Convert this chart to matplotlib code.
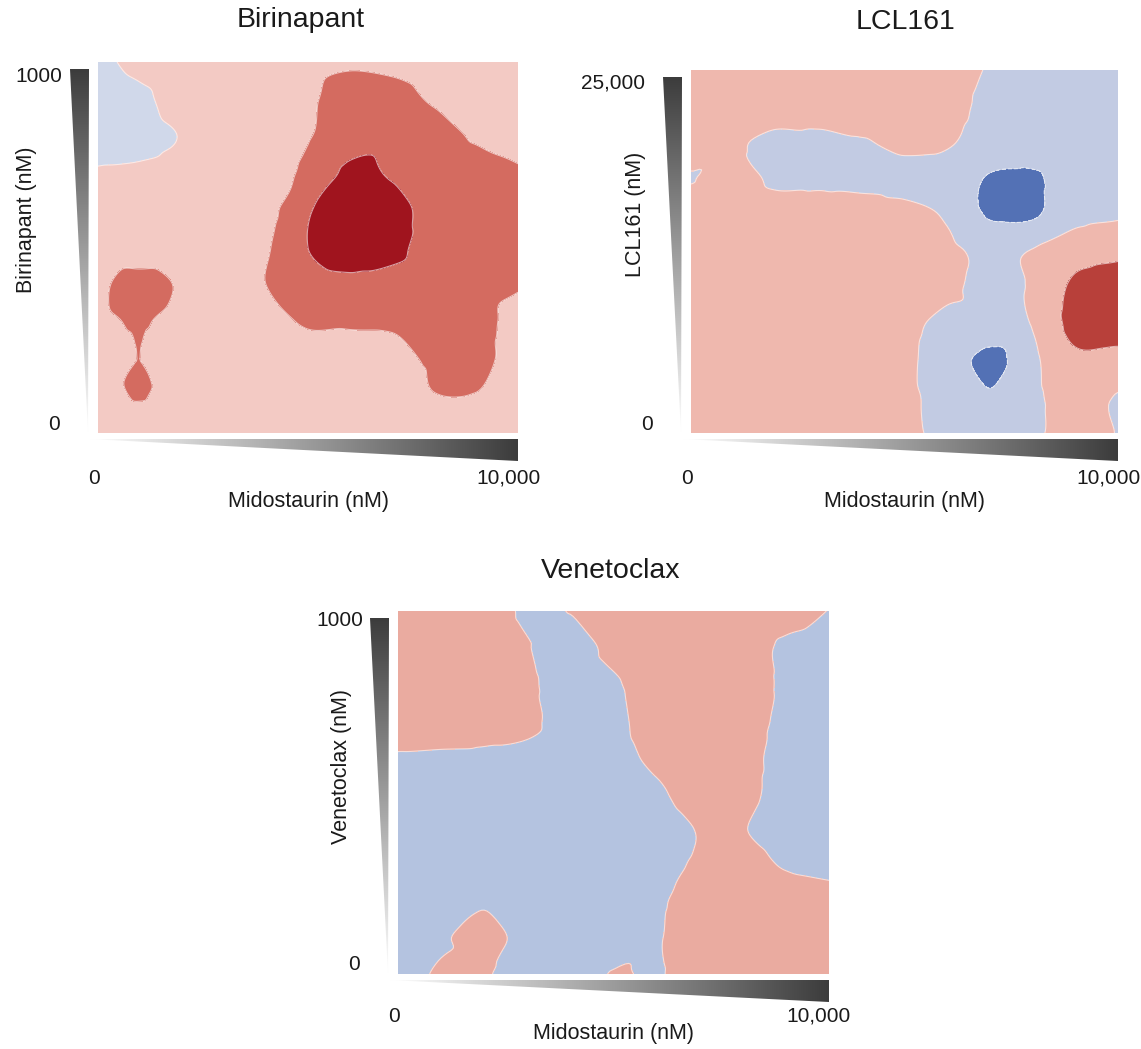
import matplotlib
matplotlib.use("Agg")
import matplotlib.pyplot as plt
import numpy as np
from matplotlib.colors import LinearSegmentedColormap
from matplotlib.patches import Polygon
from matplotlib.tri import Triangulation, UniformTriRefiner, CubicTriInterpolator

plt.rcParams["font.family"] = ["Liberation Sans", "DejaVu Sans"]

W, H = 1141, 1049

# synergy scores on the dose grid; first row = highest partner dose,
# columns run from 0 to 10,000 nM midostaurin
birinapant_scores = [
    [-3, 3, 5, 5, 6, 8, 9, 8, 6, 5, 5],
    [-6, -2, 4, 6, 7, 9, 13, 13, 9, 7, 6],
    [-5, -3, 0.5, 6, 8, 9.5, 16, 17, 14, 9, 7],
    [1, 1.5, 3, 5, 7, 12, 22, 19, 16, 14, 11],
    [4, 4, 4, 5, 7, 19, 26, 24, 16, 14, 13],
    [4, 4, 4, 5, 9, 20, 26, 23, 15, 14, 12],
    [8, 13.5, 9, 6, 10, 15, 17, 16, 14, 12, 10.5],
    [8, 10.6, 7, 5, 7, 11, 11, 11, 13, 12, 8],
    [7, 10.0, 6, 5, 5, 6, 7, 8, 11, 12, 7],
    [6, 10.5, 5, 4, 4, 5, 5, 6, 9.7, 9.7, 6],
    [3, 4, 3, 2, 2, 2, 3, 3, 4, 4, 3],
]

lcl161_scores = [
    [5, 5, 5, 5, 5, 5, 3, -0.6, -4, -4, -4],
    [5, 5, 5, 4, 4, 4, 2.5, -2, -5, -5, -4],
    [4, 1.2, -2.5, -2, -0.5, 1.5, 0.8, -4, -6, -5, -4],
    [-0.3, 3.5, -1.5, -1.5, -1.5, -2, -4, -10.8, -11, -6, -4],
    [4, 5, 4, 4, 3, 2, -1, -10.8, -11, -3, -1],
    [4, 5, 5, 5, 5, 4, 2, -2, 0.5, 6, 8],
    [4, 5, 5, 5, 5, 4, 1.5, -2, 1, 12, 14],
    [4, 4, 4, 4, 4, 2, -2, -3, 0.5, 13, 14],
    [4, 4, 4, 4, 4, 1.5, -4, -13, -2, 8, 7],
    [4, 4, 4, 4, 4, 1.5, -3, -9, -2, 4, -0.5],
    [4, 4, 4, 4, 4, 1.5, -2, -3, -1.5, 3, -0.3],
]

venetoclax_scores = [
    [5, 5, 4, -1, 0.2, 4, 5, 5, 4, 3, -0.2],
    [5, 5, 4, 0.3, -3, 2, 5, 5, 3, -1, -3],
    [5, 5, 4, 1.2, -3, -0.8, 4, 5, 3, -1, -3],
    [4, 4, 3, 1.5, -3, -1.5, 3, 5, 3, -1.5, -3],
    [-0.5, -0.8, -1, -1.5, -3, -2, 1.5, 4, 2, -2, -3],
    [-3, -3, -3, -3, -3, -2.5, -1, 3, 1.5, -2, -3],
    [-3, -3, -3, -3, -3, -3, -3, 0.3, 0.2, -2.5, -3],
    [-3, -3, -3, -3, -3, -3, -2, 0.8, 2, -0.5, -1.5],
    [-2, -1, -0.5, -2, -3, -2.5, -0.7, 2, 3, 3, 2],
    [-2, -0.5, 1.5, -1.5, -2.5, -2, -0.3, 2, 3, 3, 3],
    [-2, 0.5, 0.3, -2, -2, 0.2, -0.3, 2, 3, 3, 3],
]

MIDO_MAX = 10000
panels = [
    dict(title="Birinapant", scores=birinapant_scores, ymax=1000,
         ylabel="Birinapant (nM)", ytop="1000",
         levels=[-50, 0, 10, 20, 50],
         colors=["#d0d8ea", "#f3cac4", "#d46b60", "#a0141e"],
         box=(98, 62, 518, 433), title_xy=(301, 20), ylab_xy=(27, 220),
         ytop_dx=36, ytop_dy=15, xt_dy=45, xlab_dy=68),
    dict(title="LCL161", scores=lcl161_scores, ymax=25000,
         ylabel="LCL161 (nM)", ytop="25,000",
         levels=[-50, -10, 0, 10, 50],
         colors=["#5371b5", "#c2cbe3", "#efb8ae", "#b8403a"],
         box=(691, 70, 1118, 433), title_xy=(905, 22), ylab_xy=(635, 214),
         ytop_dx=46, ytop_dy=13, xt_dy=45, xlab_dy=68),
    dict(title="Venetoclax", scores=venetoclax_scores, ymax=1000,
         ylabel="Venetoclax (nM)", ytop="1000",
         levels=[-50, 0, 50],
         colors=["#b4c3e0", "#eaaba0"],
         box=(398, 611, 829, 974), title_xy=(611, 571), ylab_xy=(341, 767),
         ytop_dx=35, ytop_dy=10, xt_dy=42, xlab_dy=60),
]

fig = plt.figure(figsize=(W / 100, H / 100), dpi=100)

# overlay in pixel units for the dose wedges and labels
ov = fig.add_axes([0, 0, 1, 1], zorder=5)
ov.set_xlim(0, W)
ov.set_ylim(H, 0)
ov.axis("off")

wedge_cmap = LinearSegmentedColormap.from_list("wedge", ["#ffffff", "#3c3c3c"])
txt = dict(color="#1a1a1a")


def wedge(points, vertical):
    xs = [p[0] for p in points]
    ys = [p[1] for p in points]
    if vertical:
        grad = np.linspace(1, 0, 256).reshape(-1, 1)
    else:
        grad = np.linspace(0, 1, 256).reshape(1, -1)
    im = ov.imshow(grad, cmap=wedge_cmap, vmin=0, vmax=1, aspect="auto",
                   extent=(min(xs), max(xs), max(ys), min(ys)), origin="upper",
                   interpolation="bilinear")
    poly = Polygon(points, closed=True, facecolor="none", edgecolor="none",
                   transform=ov.transData)
    ov.add_patch(poly)
    im.set_clip_path(poly)


for p in panels:
    x0, y0, x1, y1 = p["box"]
    ax = fig.add_axes([x0 / W, 1 - y1 / H, (x1 - x0) / W, (y1 - y0) / H])
    z = np.flipud(np.array(p["scores"], dtype=float))
    ny, nx = z.shape
    gx, gy = np.meshgrid(np.linspace(0, MIDO_MAX, nx), np.linspace(0, p["ymax"], ny))
    tri = Triangulation(gx.ravel(), gy.ravel())
    interp = CubicTriInterpolator(tri, z.ravel(), kind="geom")
    tri_f, z_f = UniformTriRefiner(tri).refine_field(z.ravel(), triinterpolator=interp, subdiv=4)
    ax.tricontourf(tri_f, z_f, levels=p["levels"], colors=p["colors"])
    ax.tricontour(tri_f, z_f, levels=p["levels"][1:-1], colors="white",
                  linewidths=0.8, alpha=0.6)
    ax.set_xlim(0, MIDO_MAX)
    ax.set_ylim(0, p["ymax"])
    ax.axis("off")

    cx = (x0 + x1) / 2
    ov.text(*p["title_xy"], p["title"], ha="center", va="center", fontsize=20.5, **txt)
    # vertical dose wedge, dark at the top
    wedge([(x0 - 28, y0 + 7), (x0 - 9, y0 + 7), (x0 - 10, y1)], vertical=True)
    # horizontal dose wedge, dark at the right
    wedge([(x0 - 9, y1 + 6), (x1, y1 + 6), (x1, y1 + 28)], vertical=False)
    ov.text(x0 - p["ytop_dx"], y0 + p["ytop_dy"], p["ytop"], ha="right", va="center", fontsize=15, **txt)
    ov.text(x0 - 38, y1 - 9, "0", ha="right", va="center", fontsize=15, **txt)
    ov.text(x0 - 4, y1 + p["xt_dy"], "0", ha="center", va="center", fontsize=15, **txt)
    ov.text(x1 - 10, y1 + p["xt_dy"], "10,000", ha="center", va="center", fontsize=15, **txt)
    ov.text(cx, y1 + p["xlab_dy"], "Midostaurin (nM)", ha="center", va="center", fontsize=15.5, **txt)
    ov.text(*p["ylab_xy"], p["ylabel"], ha="center", va="center", rotation=90,
            fontsize=15.5, **txt)

fig.savefig("out.png", dpi=100, facecolor="white")
